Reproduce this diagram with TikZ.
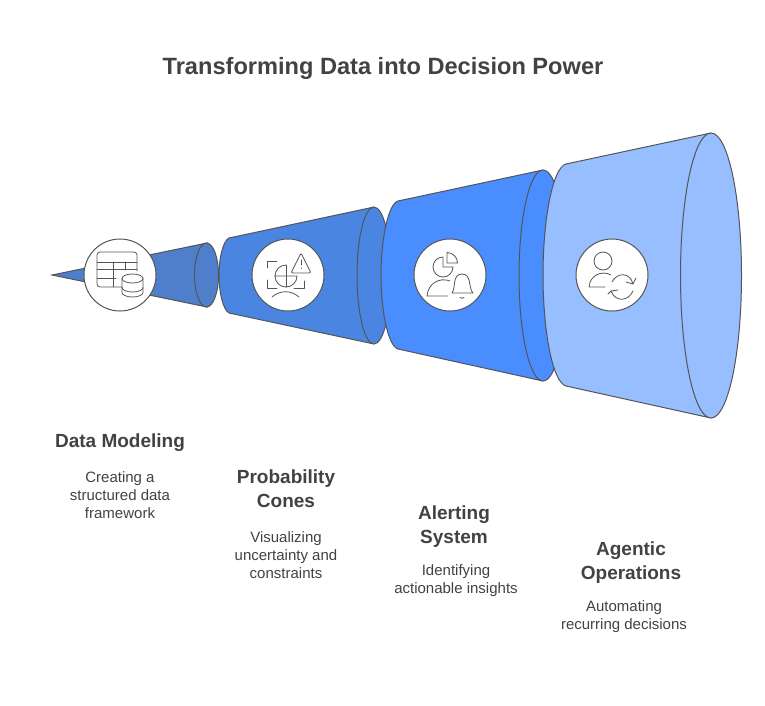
\documentclass[tikz,border=0pt]{standalone}
\usepackage{fontspec}
\setmainfont{Liberation Sans}
\definecolor{inkgray}{HTML}{424242}
\definecolor{edgegray}{HTML}{555555}
\definecolor{conea}{HTML}{4F7FCB}
\definecolor{coneb}{HTML}{4A85E2}
\definecolor{conec}{HTML}{4A8DFF}
\definecolor{coned}{HTML}{97BEFF}
\tikzset{cone/.style = {draw=edgegray, line width=1pt, fill=#1},
         badge/.style = {circle, draw=edgegray, line width=1pt, fill=white,
                         minimum size=72pt, inner sep=0pt},
         icon/.style = {draw=edgegray, line width=0.8pt, line cap=round, line join=round},
         heading/.style = {text=inkgray, align=center,
                           font=\fontsize{19}{24}\selectfont\bfseries},
         blurb/.style = {text=inkgray, align=center,
                         font=\fontsize{15}{18}\selectfont}
        }
\begin{document}
\begin{tikzpicture}[x=1pt, y=-1pt]
  \useasboundingbox (0,0) rectangle (765,705);
  \node[text=inkgray, font=\fontsize{23.6}{28}\selectfont\bfseries] (title) at (383,68)
    {Transforming Data into Decision Power};

  % cones, small to large
  \draw[cone=conea] (52,275) -- (207,243) -- (207,307) -- cycle;
  \draw[cone=conea] (206.5,275) ellipse (12 and 32);
  \draw[cone=coneb] (374,207) -- (229,238)
    .. controls (223,241) and (219,258) .. (219,275)
    .. controls (219,292) and (223,310) .. (229,313) -- (374,344);
  \draw[cone=coneb] (374,275.5) ellipse (17 and 68.5);
  \draw[cone=conec] (543,170) -- (398,201)
    .. controls (388,204) and (381,240) .. (381,275)
    .. controls (381,311) and (388,346) .. (398,349) -- (543,381);
  \draw[cone=conec] (543,275.5) ellipse (24 and 105.5);
  \draw[cone=coned] (711,133) -- (566,164)
    .. controls (552,168) and (543,222) .. (543,275)
    .. controls (543,329) and (552,382) .. (566,386) -- (711,418);
  \draw[cone=coned] (711,275.5) ellipse (30.5 and 142.5);

  \node[badge] (modeling) at (120,275) {};
  \node[badge] (cones) at (288,275) {};
  \node[badge] (alerting) at (450,275) {};
  \node[badge] (agentic) at (612,275) {};

  % table and cylinder
  \draw[icon] (137,271) -- (137,255) arc (0:-90:3) -- (100,252) arc (-90:-180:3)
    -- (97,284) arc (180:90:3) -- (122,287);
  \draw[icon] (97,262) -- (137,262) (97,269) -- (137,269) (97,278) -- (116,278);
  \draw[icon] (113,262) -- (113,287) (125,262) -- (125,270);
  \draw[icon] (132.5,278.5) ellipse (10.5 and 4.5);
  \draw[icon] (122,278.5) -- (122,292.5) arc (180:0:10.5 and 4.5) -- (143,278.5);
  \draw[icon] (122,287.5) arc (180:0:10.5 and 4.5);

  % frame, pie, warning sign
  \draw[icon] (277,261) -- (267,261) -- (267,268) (267,280) -- (267,288) -- (277,288)
    (294,288) -- (304,288) -- (304,281);
  \draw[icon] (286,265) arc (-90:-270:11) arc (90:0:11) -- (275,276);
  \draw[icon] (286,265) -- (286,287);
  \draw[icon, rounded corners=2pt] (301,253) -- (311,273) -- (291,273) -- cycle;
  \draw[icon] (301,260) -- (301,265) (301,268) -- (301,268.5);
  \draw[icon] (272,297) .. controls (280,290) and (291,290) .. (299,297);

  % pie, person, bell
  \draw[icon] (453,267) arc (0:270:10) -- (443,267) -- cycle;
  \draw[icon] (447,252.5) arc (-90:0:10.5) -- (447,263) -- cycle;
  \draw[icon] (450,281) .. controls (440,277) and (428,283) .. (427,296) -- (448,296);
  \draw[icon] (452,293) -- (473,293) .. controls (468,288) and (472,274) .. (462,274)
    .. controls (452,274) and (456,288) .. (452,293);
  \draw[icon] (460,297.5) .. controls (461,298.5) and (463,298.5) .. (464,297.5);

  % person, refresh arrows
  \draw[icon] (603,261) circle (9);
  \draw[icon] (611,275) .. controls (602,270) and (590,275) .. (589,287) -- (605,287);
  \draw[icon] (612,282) .. controls (617,272) and (630,272) .. (633,284)
    (626,282) -- (633,284) -- (636,278);
  \draw[icon] (633,291) .. controls (628,302) and (615,302) .. (611,291)
    (608,294) -- (611,291) -- (618,290);

  % labels
  \node[heading] (modelingname) at (120,443) {Data Modeling};
  \node[blurb] (modelingtext) at (120,495) {Creating a\\structured data\\framework};
  \node[heading] (conesname) at (286,489) {Probability\\Cones};
  \node[blurb] (conestext) at (286,555) {Visualizing\\uncertainty and\\constraints};
  \node[heading] (alertingname) at (454,527) {Alerting\\System};
  \node[blurb] (alertingtext) at (456,581) {Identifying\\actionable insights};
  \node[heading] (agenticname) at (631,563) {Agentic\\Operations};
  \node[blurb] (agentictext) at (624,617) {Automating\\recurring decisions};
\end{tikzpicture}
\end{document}
